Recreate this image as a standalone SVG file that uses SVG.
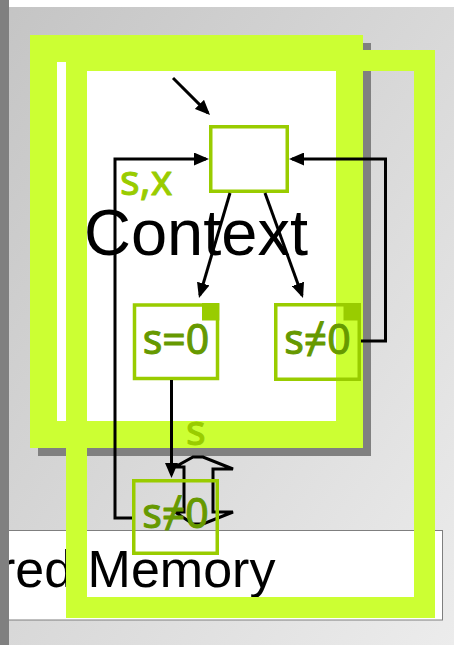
<svg xmlns="http://www.w3.org/2000/svg" width="454" height="645" viewBox="0 0 454 645">
<defs>
<linearGradient id="bg" x1="0" y1="0" x2="1" y2="1">
<stop offset="0" stop-color="#c4c4c4"/>
<stop offset="1" stop-color="#ececec"/>
</linearGradient>
<marker id="ah" markerUnits="userSpaceOnUse" markerWidth="15" markerHeight="13" viewBox="0 0 15 13" refX="12" refY="6.5" orient="auto">
<path d="M0,0 L15,6.5 L0,13 z" fill="#000"/>
</marker>
<style>
.frame{fill:none;stroke:#ccff33}
.box{fill:none;stroke:#99cc00;stroke-width:3.5}
.corner{fill:#99cc00}
.lbl{font-family:"Noto Sans","Open Sans",sans-serif;font-size:41px;stroke-width:1;stroke-linejoin:round}
.in{fill:#669900;stroke:#669900}
.var{fill:#99cc00;stroke:#99cc00}
.big{font-family:"Liberation Sans",Arial,sans-serif;fill:#000}
.conn{fill:none;stroke:#000;stroke-width:3}
</style>
</defs>
<rect x="0" y="0" width="454" height="645" fill="url(#bg)"/>
<rect x="0" y="0" width="454" height="7" fill="#fff"/>

<g id="context">
<rect x="38" y="43" width="333" height="413" fill="#808080"/>
<rect x="43.5" y="48.5" width="306" height="386" fill="#fff" stroke="#ccff33" stroke-width="27"/>
<text class="big" x="84" y="255" font-size="65">Context</text>
<text class="lbl var" x="120" y="195">s,x</text>
<text class="lbl var" x="186" y="445">s</text>
</g>

<g id="top-box">
<rect class="box" x="210.75" y="126.75" width="76.5" height="64.5"/>
</g>

<g id="s-eq-0">
<rect class="box" x="134.5" y="305" width="83" height="73.5"/>
<rect class="corner" x="202" y="303" width="17.3" height="17.5"/>
<text class="lbl in" x="176" y="354" text-anchor="middle">s=0</text>
</g>

<g id="s-ne-0">
<rect class="box" x="275.75" y="304.75" width="83.5" height="74.5"/>
<rect class="corner" x="343.5" y="303" width="17.5" height="17.5"/>
<text class="lbl in" x="317.5" y="354" text-anchor="middle">s≠0</text>
</g>

<g id="shared-memory">
<rect x="-5" y="530.5" width="447.5" height="89.5" fill="#fff" stroke="#7f7f7f" stroke-width="1"/>
<text class="big" x="-2" y="587" font-size="52">red Memory</text>
</g>

<g id="connectors">
<path class="conn" d="M173,78 L207.9,112.9" marker-end="url(#ah)"/>
<path class="conn" d="M230,193 L199.85,295.1" marker-end="url(#ah)"/>
<path class="conn" d="M265,193 L302,295.2" marker-end="url(#ah)"/>
<path class="conn" d="M171.5,380 V475" marker-end="url(#ah)"/>
<path class="conn" d="M132,518 H115 V159 H206" marker-end="url(#ah)"/>
<path class="conn" d="M361,341 H385.5 V159 H292" marker-end="url(#ah)"/>
<polygon points="184,467 175,467 193,457 203,457 233,469 213,469 213,512 233,512 203,524 193,524 175,512 184,512" fill="none" stroke="#000" stroke-width="3" stroke-linejoin="miter"/>
</g>

<g id="bottom-box">
<rect class="box" x="133.75" y="480.75" width="83.5" height="72.5"/>
<text class="lbl in" x="175.5" y="528" text-anchor="middle">s≠0</text>
</g>

<g id="memory-frame">
<rect class="frame" x="76.5" y="60.5" width="348" height="547" stroke-width="21"/>
</g>

<rect x="0" y="0" width="9" height="645" fill="#808080"/>
</svg>
